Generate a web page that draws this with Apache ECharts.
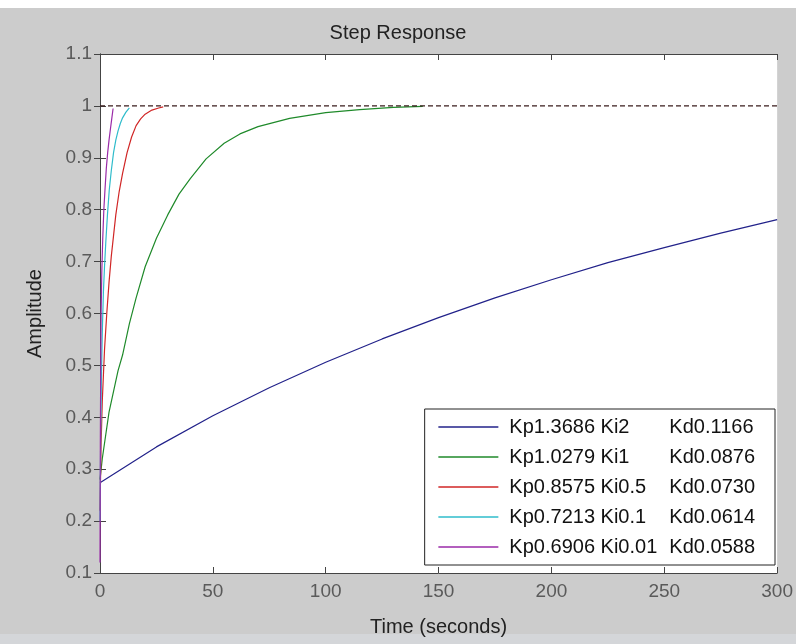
<!DOCTYPE html>
<html>
<head>
<meta charset="utf-8">
<title>Step Response</title>
<script src="https://cdn.jsdelivr.net/npm/echarts@6/dist/echarts.min.js"></script>
<style>
  body { margin: 0; background: #cccccc; }
  #main { width: 796px; height: 644px; }
</style>
</head>
<body>
<div id="main"></div>
<script type="text/javascript">
// legend names (one per curve)
var names = [
  'Kp1.3686 Ki2 Kd0.1166',
  'Kp1.0279 Ki1 Kd0.0876',
  'Kp0.8575 Ki0.5 Kd0.0730',
  'Kp0.7213 Ki0.1 Kd0.0614',
  'Kp0.6906 Ki0.01 Kd0.0588'
];
var colors = ['#22228a', '#1f8a2a', '#d02626', '#2fbccb', '#9a2aa8'];

// time (s) and amplitude
var tBlue = [0, 25, 50, 75, 100, 125, 150, 175, 200, 225, 250, 275, 300];
var yBlue = [0.274, 0.343, 0.403, 0.457, 0.506, 0.551, 0.592, 0.630, 0.665, 0.698, 0.727, 0.755, 0.781];

var tGreen = [0, 1, 2, 4, 6, 8, 10, 13, 16, 20, 25, 30, 35, 40, 47, 55, 62, 70, 84, 100, 115, 130, 143];
var yGreen = [0.28, 0.32, 0.35, 0.41, 0.45, 0.49, 0.52, 0.58, 0.63, 0.69, 0.745, 0.79, 0.83, 0.86, 0.898, 0.928, 0.946, 0.96, 0.976, 0.987, 0.993, 0.997, 0.999];

var tRed = [0, 0.5, 1, 2, 3, 4, 5, 6, 7, 8.5, 10, 12, 14, 16, 18, 20, 23, 26, 28];
var yRed = [0.22, 0.35, 0.43, 0.53, 0.60, 0.66, 0.71, 0.75, 0.79, 0.835, 0.87, 0.91, 0.94, 0.962, 0.975, 0.984, 0.992, 0.996, 0.998];

var tCyan = [0, 0.3, 0.6, 1, 1.5, 2, 2.6, 3.3, 4.1, 5, 6, 7, 8, 9, 10, 11.5, 13];
var yCyan = [0.2, 0.36, 0.47, 0.56, 0.64, 0.69, 0.74, 0.79, 0.838, 0.875, 0.91, 0.934, 0.952, 0.966, 0.977, 0.988, 0.996];

var tPurple = [0, 0.15, 0.3, 0.5, 0.8, 1.2, 1.7, 2.2, 2.8, 3.4, 4, 4.6, 5.2, 5.8];
var yPurple = [0.12, 0.35, 0.48, 0.6, 0.68, 0.742, 0.8, 0.838, 0.88, 0.91, 0.934, 0.955, 0.975, 0.995];

// steady state line
var finalValue = 1;
var tRange = [0, 300];

function pairs(t, y) {
  return t.map(function (v, i) { return [v, y[i]]; });
}

var curves = [
  pairs(tBlue, yBlue),
  pairs(tGreen, yGreen),
  pairs(tRed, yRed),
  pairs(tCyan, yCyan),
  pairs(tPurple, yPurple)
];

var font = "'Liberation Sans', Arial, sans-serif";
var axisColor = '#444';

var series = curves.map(function (d, i) {
  return {
    name: names[i],
    type: 'line',
    data: d,
    symbol: 'none',
    color: colors[i],
    lineStyle: { width: 1.2, color: colors[i] },
    z: 3 + i
  };
});
series.push({
  name: 'steady',
  type: 'line',
  data: [[tRange[0], finalValue], [tRange[1], finalValue]],
  symbol: 'none',
  lineStyle: { width: 1.3, color: '#3a1c1c', type: [5, 3] },
  z: 10
});

var myChart = echarts.init(document.getElementById('main'));
myChart.setOption({
  backgroundColor: '#cccccc',
  animation: false,
  textStyle: { fontFamily: font },
  graphic: [
    { type: 'rect', shape: { x: 0, y: 0, width: 796, height: 8 }, style: { fill: '#ffffff' }, z: -1 },
    { type: 'rect', shape: { x: 0, y: 634, width: 796, height: 10 }, style: { fill: '#d4d6d9' }, z: -1 }
  ],
  title: {
    text: 'Step Response',
    left: 'center',
    top: 18,
    textStyle: { fontFamily: font, fontSize: 20, fontWeight: 'normal', color: '#222' }
  },
  grid: {
    left: 100, right: 17, top: 54, bottom: 71,
    show: true, backgroundColor: '#ffffff', borderWidth: 0
  },
  legend: {
    data: names,
    orient: 'vertical',
    right: 21,
    bottom: 79,
    backgroundColor: '#ffffff',
    borderColor: '#222',
    borderWidth: 1,
    borderRadius: 0,
    padding: [8, 20, 8, 13],
    itemWidth: 60,
    itemHeight: 20,
    itemGap: 10,
    itemStyle: { opacity: 0 },
    lineStyle: { width: 1.4 },
    textStyle: {
      fontFamily: font, fontSize: 20, color: '#111',
      rich: {
        a: { fontFamily: font, fontSize: 20, color: '#111', width: 160, padding: [0, 0, 0, 6] },
        b: { fontFamily: font, fontSize: 20, color: '#111' }
      }
    },
    formatter: function (name) {
      var i = name.indexOf('Kd');
      return '{a|' + name.slice(0, i).trim() + '}{b|' + name.slice(i) + '}';
    }
  },
  xAxis: [{
    type: 'value',
    min: 0, max: 300, interval: 50,
    name: 'Time (seconds)',
    nameLocation: 'middle',
    nameGap: 44,
    nameTextStyle: { fontFamily: font, fontSize: 20, color: '#222' },
    axisLine: { show: true, lineStyle: { color: axisColor } },
    axisTick: { show: true, inside: true, length: 6, lineStyle: { color: axisColor } },
    axisLabel: { fontFamily: font, fontSize: 19, color: '#5a5a5a', margin: 9 },
    splitLine: { show: false }
  }, {
    type: 'value',
    position: 'top',
    min: 0, max: 300, interval: 50,
    axisLine: { show: true, lineStyle: { color: axisColor } },
    axisTick: { show: true, inside: true, length: 6, lineStyle: { color: axisColor } },
    axisLabel: { show: false },
    splitLine: { show: false }
  }],
  yAxis: [{
    type: 'value',
    min: 0.1, max: 1.1, interval: 0.1,
    name: 'Amplitude',
    nameLocation: 'middle',
    nameGap: 55,
    nameRotate: 90,
    nameTextStyle: { fontFamily: font, fontSize: 20, color: '#222' },
    axisLine: { show: true, lineStyle: { color: axisColor } },
    axisTick: { show: true, inside: true, length: 6, lineStyle: { color: axisColor } },
    axisLabel: {
      fontFamily: font, fontSize: 19, color: '#5a5a5a', margin: 8,
      formatter: function (v) { return String(Math.round(v * 10) / 10); }
    },
    splitLine: { show: false }
  }, {
    type: 'value',
    position: 'right',
    min: 0.1, max: 1.1, interval: 0.1,
    axisLine: { show: true, lineStyle: { color: axisColor } },
    axisTick: { show: true, inside: true, length: 6, lineStyle: { color: axisColor } },
    axisLabel: { show: false },
    splitLine: { show: false }
  }],
  series: series
});
</script>
</body>
</html>
